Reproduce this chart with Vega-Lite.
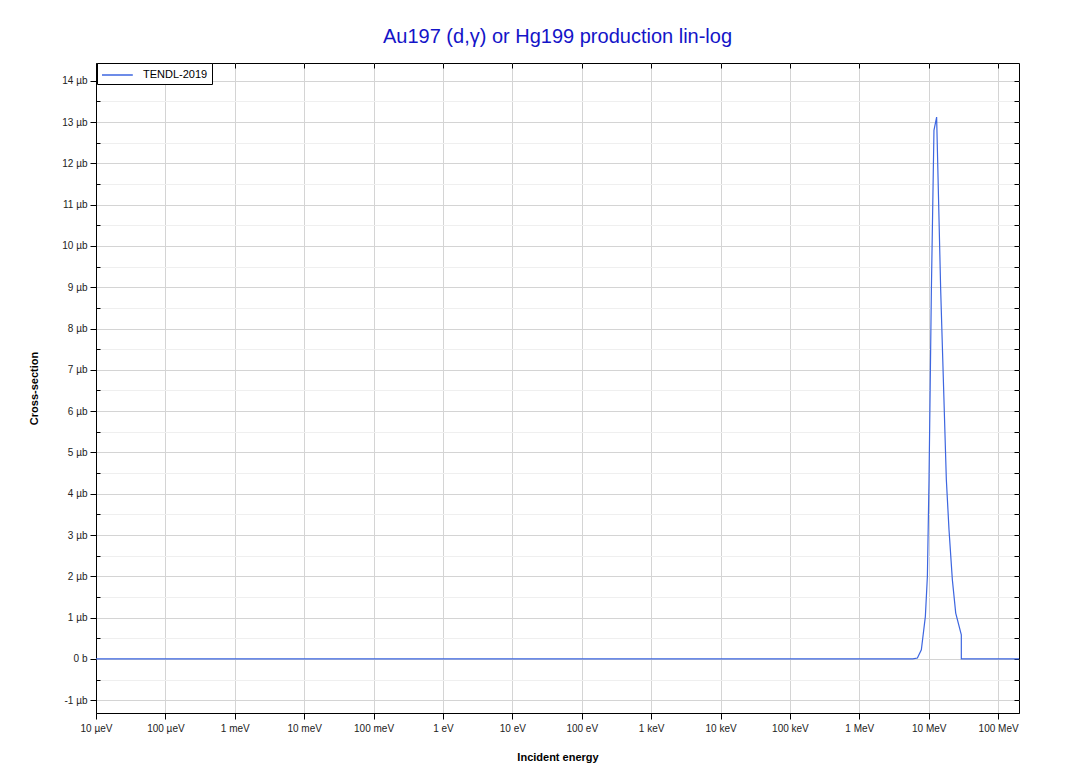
{
  "$schema": "https://vega.github.io/schema/vega-lite/v6.json",
  "autosize": "none",
  "width": 923,
  "height": 650,
  "padding": {"left": 96, "top": 63, "right": 48, "bottom": 60},
  "background": "white",
  "title": {
    "text": "Au197 (d,γ) or Hg199 production lin-log",
    "font": "Liberation Sans",
    "fontSize": 20,
    "fontWeight": "normal",
    "color": "#1414c8",
    "anchor": "middle",
    "offset": 16
  },
  "config": {
    "view": {"stroke": "black", "strokeWidth": 1},
    "font": "Liberation Sans"
  },
  "data": {
    "values": [
      {"E": 1e-5, "xs": 0, "src": "TENDL-2019"},
      {"E": 5.9e6, "xs": 0, "src": "TENDL-2019"},
      {"E": 6.87e6, "xs": 0.02, "src": "TENDL-2019"},
      {"E": 7.83e6, "xs": 0.22, "src": "TENDL-2019"},
      {"E": 8.95e6, "xs": 1.03, "src": "TENDL-2019"},
      {"E": 9.57e6, "xs": 2.0, "src": "TENDL-2019"},
      {"E": 1.01e7, "xs": 4.34, "src": "TENDL-2019"},
      {"E": 1.093e7, "xs": 8.96, "src": "TENDL-2019"},
      {"E": 1.19e7, "xs": 12.8, "src": "TENDL-2019"},
      {"E": 1.3e7, "xs": 13.12, "src": "TENDL-2019"},
      {"E": 1.486e7, "xs": 8.96, "src": "TENDL-2019"},
      {"E": 1.795e7, "xs": 4.34, "src": "TENDL-2019"},
      {"E": 1.96e7, "xs": 3.13, "src": "TENDL-2019"},
      {"E": 2.19e7, "xs": 1.92, "src": "TENDL-2019"},
      {"E": 2.45e7, "xs": 1.11, "src": "TENDL-2019"},
      {"E": 2.95e7, "xs": 0.58, "src": "TENDL-2019"},
      {"E": 2.951e7, "xs": 0, "src": "TENDL-2019"},
      {"E": 2e8, "xs": 0, "src": "TENDL-2019"}
    ]
  },
  "layer": [
    {
      "mark": {"type": "line", "strokeWidth": 1.2, "clip": true},
      "encoding": {
        "x": {
          "field": "E", "type": "quantitative",
          "scale": {"type": "log", "domain": [1e-5, 2e8], "nice": false},
          "axis": {
            "orient": "bottom",
            "title": "Incident energy",
            "titleFont": "Liberation Sans",
            "titleFontSize": 11,
            "titleFontWeight": "bold",
            "titleColor": "black",
            "titlePadding": 18,
            "values": [1e-5, 1e-4, 1e-3, 1e-2, 1e-1, 1, 10, 100, 1000, 1e4, 1e5, 1e6, 1e7, 1e8],
            "labelExpr": "['10 µeV','100 µeV','1 meV','10 meV','100 meV','1 eV','10 eV','100 eV','1 keV','10 keV','100 keV','1 MeV','10 MeV','100 MeV'][round(log(datum.value)/LN10)+5]",
            "labelFont": "Liberation Sans",
            "labelFontSize": 10,
            "labelColor": "#222",
            "labelPadding": 4,
            "labelFlush": false,
            "labelOverlap": false,
            "tickSize": 6,
            "tickColor": "black",
            "domainColor": "black",
            "grid": true,
            "gridColor": "#d4d4d4"
          }
        },
        "y": {
          "field": "xs", "type": "quantitative",
          "scale": {"domain": [-1.31, 14.43], "nice": false, "zero": false},
          "axis": {
            "orient": "left",
            "title": "Cross-section",
            "titleFont": "Liberation Sans",
            "titleFontSize": 11,
            "titleFontWeight": "bold",
            "titleColor": "black",
            "titlePadding": 22,
            "values": [-1, -0.5, 0, 0.5, 1, 1.5, 2, 2.5, 3, 3.5, 4, 4.5, 5, 5.5, 6, 6.5, 7, 7.5, 8, 8.5, 9, 9.5, 10, 10.5, 11, 11.5, 12, 12.5, 13, 13.5, 14],
            "labelExpr": "datum.value == 0 ? '0 b' : (datum.value % 1 == 0 ? datum.value + ' µb' : '')",
            "labelFont": "Liberation Sans",
            "labelFontSize": 10,
            "labelColor": "#222",
            "labelPadding": 3,
            "labelOverlap": false,
            "tickSize": {"condition": {"test": "datum.value % 1 == 0", "value": 6}, "value": -4},
            "tickColor": "black",
            "domainColor": "black",
            "grid": true,
            "gridColor": {"condition": {"test": "datum.value % 1 == 0", "value": "#d4d4d4"}, "value": "#efefef"}
          }
        },
        "color": {
          "field": "src", "type": "nominal",
          "scale": {"range": ["#3d66e0"]},
          "legend": {
            "orient": "none",
            "legendX": 1,
            "legendY": 0,
            "title": null,
            "symbolType": "M-1,0H3.4",
            "symbolSize": 196,
            "symbolStrokeWidth": 1.5,
            "symbolFillColor": "transparent",
            "labelFont": "Liberation Sans",
            "labelFontSize": 11,
            "labelOffset": 26,
            "labelColor": "black",
            "fillColor": "white",
            "strokeColor": "black",
            "padding": 4,
            "cornerRadius": 0
          }
        }
      }
    },
    {
      "mark": {"type": "line", "opacity": 0},
      "encoding": {
        "x": {
          "field": "E", "type": "quantitative",
          "axis": {
            "orient": "top",
            "title": null,
            "values": [1e-5, 1e-4, 1e-3, 1e-2, 1e-1, 1, 10, 100, 1000, 1e4, 1e5, 1e6, 1e7, 1e8],
            "labels": false,
            "tickSize": -5,
            "tickColor": "black",
            "domain": false,
            "grid": false
          }
        },
        "y": {
          "field": "xs", "type": "quantitative",
          "axis": {
            "orient": "right",
            "title": null,
            "values": [-1, -0.5, 0, 0.5, 1, 1.5, 2, 2.5, 3, 3.5, 4, 4.5, 5, 5.5, 6, 6.5, 7, 7.5, 8, 8.5, 9, 9.5, 10, 10.5, 11, 11.5, 12, 12.5, 13, 13.5, 14],
            "labels": false,
            "tickSize": -5,
            "tickColor": "black",
            "domain": false,
            "grid": false
          }
        }
      }
    }
  ],
  "resolve": {"scale": {"x": "shared", "y": "shared"}, "axis": {"x": "independent", "y": "independent"}}
}
